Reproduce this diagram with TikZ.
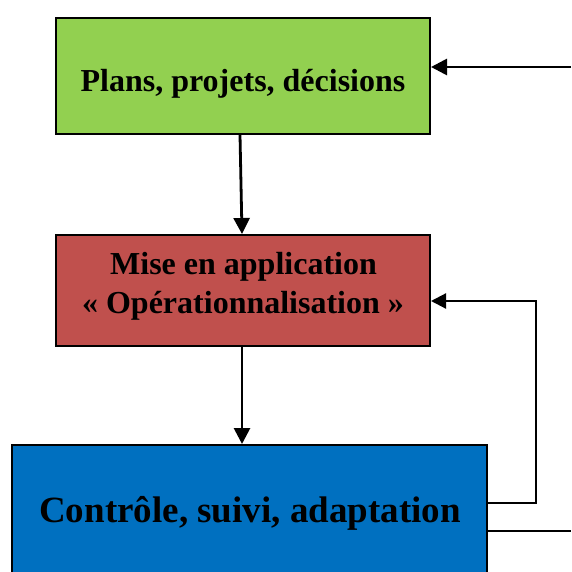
\documentclass[tikz,border=0pt]{standalone}
\usepackage{fontspec}
\setmainfont{Liberation Serif}
\usetikzlibrary{arrows.meta}

\definecolor{boxgreen}{RGB}{146,208,80}
\definecolor{boxred}{RGB}{192,80,77}
\definecolor{boxblue}{RGB}{0,112,192}

\tikzset{
  stagebox/.style={draw=black, line width=2pt, rectangle, inner sep=0pt},
  stagetext/.style={anchor=base, inner sep=0pt, font=\bfseries},
  flow/.style={line width=2.8pt, -{Triangle[length=16pt,width=16pt]}},
  feedback/.style={line width=2.2pt},
}

\begin{document}
\begin{tikzpicture}[x=1pt, y=-1pt]
  \useasboundingbox (0,0) rectangle (571,572);
  \clip (0,0) rectangle (571,572);

  % stage boxes
  \node[stagebox, fill=boxgreen, minimum width=374pt, minimum height=116pt] (plans) at (243,76) {};
  \node[stagebox, fill=boxred,   minimum width=374pt, minimum height=111pt] (mise)  at (243,290.5) {};
  \node[stagebox, fill=boxblue,  minimum width=475pt, minimum height=130pt] (ctrl)  at (249.5,510) {};

  % box texts, placed on their baselines
  \node[stagetext, font=\bfseries\fontsize{32}{38}\selectfont] (plansT) at (243,92) {Plans, projets, décisions};
  \node[stagetext, font=\bfseries\fontsize{32}{38}\selectfont] (miseA) at (243.5,274) {Mise en application};
  \node[stagetext, font=\bfseries\fontsize{32}{38}\selectfont] (miseB) at (243,313) {«~Opérationnalisation~»};
  \node[stagetext, font=\bfseries\fontsize{37}{44}\selectfont] (ctrlT) at (250,522) {Contrôle, suivi, adaptation};

  % downward flow
  \draw[flow] ([xshift=-3pt]plans.south) -- ([xshift=-1pt]mise.north);
  \coordinate (c2) at ([xshift=-1pt]mise.south);
  \draw[flow] (c2) -- (c2 |- ctrl.north);

  % incoming arrow into the plans box
  \coordinate (inR) at (571,67);
  \draw[flow] (inR) -- (inR -| plans.east);

  % feedback loop from control back to implementation
  \coordinate (fbOut) at ([yshift=7pt]ctrl.east);
  \coordinate (fbIn) at ([yshift=-10.5pt]mise.east);
  \coordinate (fbX) at (536,0);
  \draw[feedback, -{Triangle[length=15pt,width=15pt]}]
    (fbOut) -- (fbOut -| fbX) -- (fbIn -| fbX) -- (fbIn);

  % outgoing line from the control box
  \coordinate (outR) at (571,531);
  \draw[feedback] (outR -| ctrl.east) -- (outR);
\end{tikzpicture}
\end{document}
